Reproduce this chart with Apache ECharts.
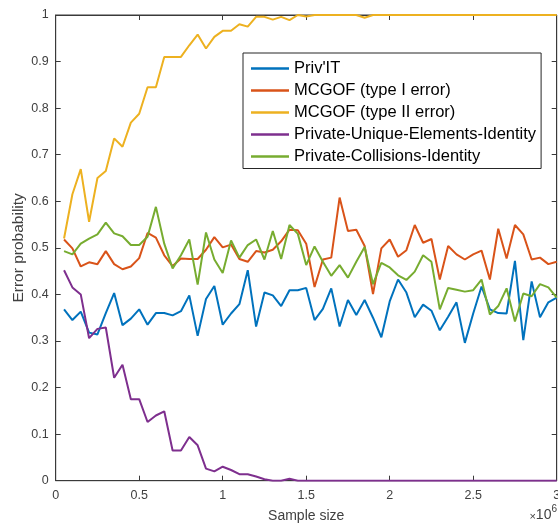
<!DOCTYPE html>
<html>
<head>
<meta charset="utf-8">
<script src="https://cdn.jsdelivr.net/npm/echarts@6/dist/echarts.min.js"></script>
<style>html,body{margin:0;padding:0;background:#fff}#c{width:558px;height:523px}</style>
</head>
<body>
<div id="c"></div>
<script>
var sampleSize = [0.05,0.1,0.15,0.2,0.25,0.3,0.35,0.4,0.45,0.5,0.55,0.6,0.65,0.7,0.75,0.8,0.85,0.9,0.95,1.0,
1.05,1.1,1.15,1.2,1.25,1.3,1.35,1.4,1.45,1.5,1.55,1.6,1.65,1.7,1.75,1.8,1.85,1.9,1.95,2.0,
2.05,2.1,2.15,2.2,2.25,2.3,2.35,2.4,2.45,2.5,2.55,2.6,2.65,2.7,2.75,2.8,2.85,2.9,2.95,3.0];
var privIT = [0.368,0.345,0.363,0.318,0.314,0.36,0.403,0.334,0.348,0.368,0.335,0.36,0.36,0.355,0.364,0.398,0.311,0.39,0.418,0.335,
0.359,0.379,0.452,0.331,0.404,0.398,0.375,0.409,0.409,0.414,0.345,0.369,0.413,0.331,0.388,0.356,0.388,0.35,0.308,0.385,
0.432,0.404,0.351,0.378,0.365,0.323,0.352,0.383,0.296,0.359,0.417,0.368,0.36,0.359,0.472,0.302,0.428,0.351,0.383,0.393];
var mcgofTypeI = [0.518,0.499,0.46,0.469,0.465,0.493,0.465,0.454,0.46,0.478,0.532,0.522,0.484,0.461,0.477,0.476,0.476,0.496,0.523,0.501,
0.507,0.476,0.47,0.493,0.49,0.496,0.514,0.539,0.538,0.509,0.416,0.475,0.479,0.608,0.536,0.539,0.504,0.401,0.499,0.518,
0.481,0.495,0.549,0.511,0.519,0.432,0.504,0.486,0.475,0.486,0.494,0.432,0.541,0.477,0.549,0.529,0.475,0.479,0.465,0.47];
var mcgofTypeII = [0.52,0.615,0.669,0.556,0.65,0.665,0.735,0.717,0.769,0.788,0.845,0.845,0.91,0.91,0.91,0.935,0.958,0.928,0.953,0.966,
0.966,0.98,0.975,0.996,0.996,0.99,0.996,0.989,1,0.997,1,1,1,1,1,1,0.994,1,1,1,
1,1,1,1,1,1,1,1,1,1,1,1,1,1,1,1,1,1,1,1];
var uniqueElements = [0.452,0.415,0.4,0.306,0.326,0.329,0.221,0.249,0.175,0.175,0.126,0.14,0.149,0.065,0.065,0.094,0.076,0.026,0.02,0.03,
0.023,0.014,0.014,0.009,0.003,0,0,0.004,0,0,0,0,0,0,0,0,0,0,0,0,
0,0,0,0,0,0,0,0,0,0,0,0,0,0,0,0,0,0,0,0];
var collisions = [0.493,0.486,0.509,0.52,0.529,0.554,0.531,0.525,0.506,0.506,0.524,0.588,0.509,0.456,0.484,0.518,0.421,0.533,0.475,0.446,
0.516,0.479,0.506,0.518,0.475,0.536,0.476,0.549,0.53,0.463,0.503,0.47,0.44,0.463,0.436,0.47,0.502,0.422,0.468,0.458,
0.441,0.431,0.449,0.484,0.47,0.368,0.414,0.41,0.406,0.409,0.432,0.357,0.375,0.413,0.342,0.402,0.396,0.422,0.415,0.393];
var seriesNames = ["Priv'IT","MCGOF (type I error)","MCGOF (type II error)","Private-Unique-Elements-Identity","Private-Collisions-Identity"];
var seriesColors = ['#0072BD','#D95319','#EDB120','#7E2F8E','#77AC30'];
var seriesValues = [privIT, mcgofTypeI, mcgofTypeII, uniqueElements, collisions];
var xTicks = [0,0.5,1,1.5,2,2.5,3];
var yTicks = [0,0.1,0.2,0.3,0.4,0.5,0.6,0.7,0.8,0.9,1];

var axisCol = '#3a3a3a';
var labelCol = '#404040';
var font = 'Liberation Sans, Arial, sans-serif';

var chart = echarts.init(document.getElementById('c'));
var series = seriesValues.map(function (vals, i) {
  var last = i === seriesValues.length - 1;
  return {
    name: seriesNames[i], type: 'line', symbol: 'none', animation: false,
    xAxisIndex: last ? 1 : 0, yAxisIndex: last ? 1 : 0,
    lineStyle: { color: seriesColors[i], width: 2 }, itemStyle: { color: seriesColors[i] },
    data: sampleSize.map(function (x, j) { return [x, vals[j]]; })
  };
});
var tickStyle = { show: true, inside: true, length: 5, lineStyle: { color: axisCol, width: 1 } };
var lineStyleAx = { show: true, onZero: false, lineStyle: { color: axisCol, width: 1 } };
chart.setOption({
  animation: false,
  textStyle: { fontFamily: font },
  grid: { left: 55.7, right: 1.3, top: 15, bottom: 42.3, containLabel: false, outerBoundsMode: 'none',
    show: true, borderColor: axisCol, borderWidth: 1, backgroundColor: 'transparent' },
  legend: {
    orient: 'vertical', left: 243, top: 53,
    data: seriesNames, icon: 'rect', itemWidth: 38, itemHeight: 2.5, itemGap: 5,
    padding: [7, 5, 3.5, 8], borderColor: '#262626', borderWidth: 1, backgroundColor: '#fff',
    textStyle: { fontSize: 16.5, color: '#000', fontFamily: font, lineHeight: 16 }
  },
  xAxis: [{
    type: 'value', min: 0, max: 3, interval: 0.5,
    name: 'Sample size', nameLocation: 'middle', nameGap: 28, nameMoveOverlap: false,
    nameTextStyle: { fontSize: 14, color: labelCol, fontFamily: font },
    axisLine: lineStyleAx, axisTick: tickStyle,
    axisLabel: { color: labelCol, fontSize: 12.5, margin: 8, fontFamily: font,
      formatter: function (v) { return xTicks.indexOf(v) >= 0 ? String(v) : ''; } },
    splitLine: { show: false }
  }, {
    type: 'value', min: 0, max: 3, interval: 0.5, position: 'top', show: true,
    axisLine: lineStyleAx, axisTick: tickStyle,
    axisLabel: { show: false }, splitLine: { show: false }
  }],
  yAxis: [{
    type: 'value', min: 0, max: 1, interval: 0.1,
    name: 'Error probability', nameLocation: 'middle', nameGap: 29, nameMoveOverlap: false,
    nameTextStyle: { fontSize: 15.5, color: labelCol, fontFamily: font },
    axisLine: lineStyleAx, axisTick: tickStyle,
    axisLabel: { color: labelCol, fontSize: 12.5, margin: 7, fontFamily: font,
      formatter: function (v) { var r = Math.round(v * 10) / 10; return yTicks.indexOf(r) >= 0 ? String(r) : ''; } },
    splitLine: { show: false }
  }, {
    type: 'value', min: 0, max: 1, interval: 0.1, position: 'right', show: true,
    axisLine: lineStyleAx, axisTick: tickStyle,
    axisLabel: { show: false }, splitLine: { show: false }
  }],
  graphic: [{
    type: 'text', right: 1, top: 504,
    style: {
      text: '{a|×}{b|10}{c|6}', fill: labelCol, fontFamily: font,
      rich: {
        a: { fontSize: 11, fill: labelCol, fontFamily: font, verticalAlign: 'bottom' },
        b: { fontSize: 14, fill: labelCol, fontFamily: font, verticalAlign: 'bottom' },
        c: { fontSize: 10, fill: labelCol, fontFamily: font, verticalAlign: 'top', padding: [0, 0, 8, 0] }
      }
    }
  }],
  series: series
});
</script>
</body>
</html>
